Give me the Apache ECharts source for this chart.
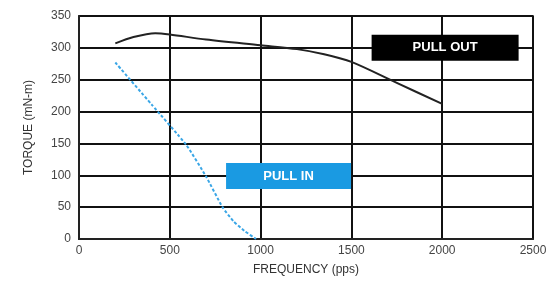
<!DOCTYPE html>
<html><head><meta charset="utf-8">
<script src="https://cdn.jsdelivr.net/npm/echarts@6/dist/echarts.min.js"></script>
<style>html,body{margin:0;padding:0;background:#fff}#c{width:558px;height:287px}</style>
</head><body><div id="c"></div>
<script>
const xTicks = [0, 500, 1000, 1500, 2000, 2500];
const yTicks = [0, 50, 100, 150, 200, 250, 300, 350];
const pullOutFreq = [200, 300, 420, 500, 700, 1000, 1200, 1350, 1500, 1750, 2000];
const pullOutTorque = [307, 317, 323, 321, 313, 304, 298, 290, 278, 245, 212];
const pullInFreq = [200, 400, 590, 700, 790, 850, 910, 975];
const pullInTorque = [277, 211, 148, 98, 50, 28, 13, 0];
const labelPullOut = { text: 'PULL OUT', freq: 2016, torque: 300 };
const labelPullIn = { text: 'PULL IN', freq: 1154, torque: 99 };

const chart = echarts.init(document.getElementById('c'));
const font = 'Liberation Sans Narrow, Arial Narrow, Liberation Sans, sans-serif';
chart.setOption({
  animation: false,
  grid: { left: 79, right: 25, top: 16, bottom: 48, show: true, borderColor: '#666', borderWidth: 2 },
  xAxis: {
    type: 'value', min: 0, max: 2500, interval: 500,
    name: 'FREQUENCY (pps)', nameLocation: 'middle', nameGap: 25,
    nameTextStyle: { color: '#333', fontSize: 12, fontFamily: font },
    axisLine: { show: true, lineStyle: { color: '#222', width: 2 } },
    axisTick: { show: false },
    axisLabel: { color: '#444', fontSize: 12, fontFamily: font, margin: 6, formatter: v => String(v) },
    splitLine: { show: true, lineStyle: { color: '#111', width: 2 } }
  },
  yAxis: {
    type: 'value', min: 0, max: 350, interval: 50,
    name: 'TORQUE (mN-m)', nameLocation: 'middle', nameGap: 44, nameRotate: 90,
    nameTextStyle: { color: '#333', fontSize: 12, fontFamily: font },
    axisLine: { show: true, lineStyle: { color: '#222', width: 2 } },
    axisTick: { show: false },
    axisLabel: { color: '#444', fontSize: 12, fontFamily: font, margin: 8, formatter: v => String(v) },
    splitLine: { show: true, lineStyle: { color: '#111', width: 2 } }
  },
  series: [
    {
      name: 'PULL OUT', type: 'line', smooth: 0.3, symbol: 'none',
      data: pullOutFreq.map((f, i) => [f, pullOutTorque[i]]),
      lineStyle: { color: '#222', width: 2 },
      markPoint: {
        symbol: 'rect', symbolSize: [147, 26], silent: true,
        itemStyle: { color: '#000' },
        label: { show: true, color: '#fff', fontWeight: 'bold', fontSize: 13, fontFamily: font },
        data: [{ coord: [labelPullOut.freq, labelPullOut.torque], value: labelPullOut.text }]
      },
      z: 3
    },
    {
      name: 'PULL IN', type: 'line', smooth: 0.15, symbol: 'none',
      data: pullInFreq.map((f, i) => [f, pullInTorque[i]]),
      lineStyle: { color: '#3aa6e6', width: 2, type: [3, 2] },
      markPoint: {
        symbol: 'rect', symbolSize: [125, 26], silent: true,
        itemStyle: { color: '#1a9ae2' },
        label: { show: true, color: '#fff', fontWeight: 'bold', fontSize: 13, fontFamily: font },
        data: [{ coord: [labelPullIn.freq, labelPullIn.torque], value: labelPullIn.text }]
      },
      z: 3
    }
  ]
});
</script></body></html>
